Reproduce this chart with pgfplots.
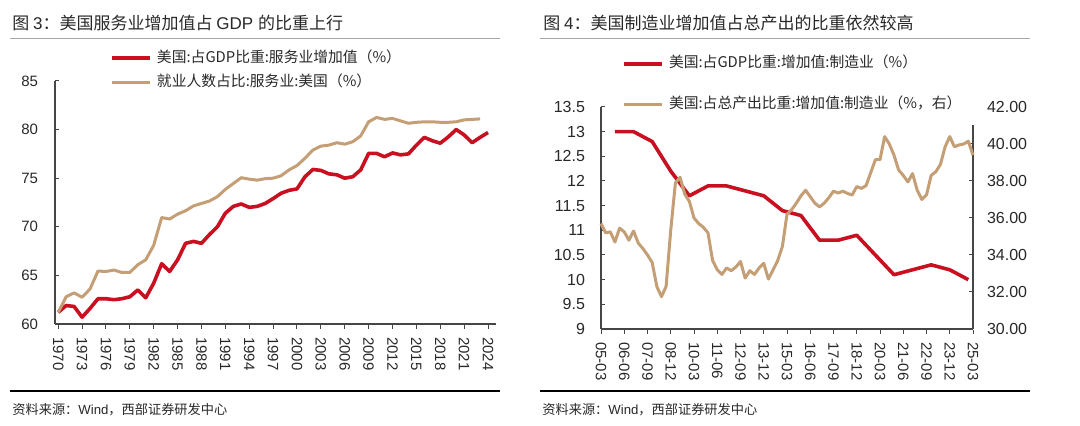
\documentclass[border=0pt]{standalone}
\usepackage{fontspec}
\setmainfont{Liberation Sans}
\newfontfamily\cjk{Noto Sans CJK SC}
\usepackage{pgfplots}
\pgfplotsset{compat=1.18}

\definecolor{cred}{RGB}{200,16,32}
\definecolor{ctan}{RGB}{196,158,116}
\definecolor{axgray}{RGB}{70,70,70}
\definecolor{txt}{RGB}{40,40,40}

\pgfplotsset{
  base/.style={
    scale only axis,
    anchor=south west,
    axis line style={-, draw=axgray, line width=0.6pt},
    tick style={draw=axgray, line width=0.5pt},
    tick align=inside,
    major tick length=2pt,
    x tick style={yshift=-2.5pt},
    /pgf/number format/assume math mode=true,
    /pgf/number format/1000 sep={},
    clip=false,
    legend cell align=left,
    legend image code/.code={\draw[##1] (0pt,0pt) -- (19pt,0pt);},
  },
}

\begin{document}
\begin{tikzpicture}
\path[use as bounding box] (0,0) rectangle (540pt,213pt);

% titles, rules and sources
\node[anchor=west, inner sep=0pt, text=txt, font=\fontsize{8.5}{10}\selectfont]
  at (6pt,201.5pt) {{\cjk 图 }3{\cjk ：美国服务业增加值占 }GDP\ {\cjk 的比重上行}};
\node[anchor=west, inner sep=0pt, text=txt, font=\fontsize{8.5}{10}\selectfont]
  at (271.5pt,201.5pt) {{\cjk 图 }4{\cjk ：美国制造业增加值占总产出的比重依然较高}};
\draw[gray!70, line width=0.5pt] (5pt,193.75pt) -- (250pt,193.75pt);
\draw[gray!70, line width=0.5pt] (270pt,193.75pt) -- (515pt,193.75pt);
\draw[black, line width=1pt] (5pt,17.5pt) -- (250pt,17.5pt);
\draw[black, line width=1pt] (270pt,17.5pt) -- (515pt,17.5pt);
\node[anchor=west, inner sep=0pt, text=txt, font=\fontsize{6.6}{8}\selectfont]
  at (6pt,8pt) {{\cjk 资料来源：}Wind{\cjk ，西部证券研发中心}};
\node[anchor=west, inner sep=0pt, text=txt, font=\fontsize{6.6}{8}\selectfont]
  at (271pt,8pt) {{\cjk 资料来源：}Wind{\cjk ，西部证券研发中心}};

% ---------- left panel ----------
\begin{axis}[base,
  at={(27.5pt,51pt)}, width=220.5pt, height=121.5pt,
  xmin=1969.6, xmax=2025, ymin=60, ymax=85,
  axis x line*=bottom, axis y line*=left,
  xtick={1970,1973,...,2024}, ytick={60,65,...,85},
  tick label style={font=\fontsize{7.5}{9}\selectfont, text=txt},
  xticklabel style={yshift=-3pt, rotate=-90, anchor=west},
  yticklabel style={xshift=-5pt},
  legend style={draw=none, fill=none, inner sep=0pt, at={(0.1247,1.125)}, anchor=north west,
    font=\fontsize{7.4}{8}\selectfont\cjk, text=txt, row sep=5pt, column sep=2.5pt,
    nodes={inner sep=0pt, text height=5.5pt, text depth=1.5pt}},
]
\addplot[cred, line width=1.8pt, line join=round, mark=none] table {
1970 61.2
1971 61.9
1972 61.8
1973 60.7
1974 61.6
1975 62.6
1976 62.6
1977 62.5
1978 62.6
1979 62.8
1980 63.5
1981 62.7
1982 64.2
1983 66.2
1984 65.4
1985 66.6
1986 68.3
1987 68.5
1988 68.3
1989 69.2
1990 70.0
1991 71.4
1992 72.1
1993 72.35
1994 72.0
1995 72.1
1996 72.4
1997 72.9
1998 73.45
1999 73.75
2000 73.9
2001 75.15
2002 75.9
2003 75.8
2004 75.45
2005 75.35
2006 75.0
2007 75.15
2008 75.85
2009 77.55
2010 77.55
2011 77.2
2012 77.6
2013 77.4
2014 77.5
2015 78.4
2016 79.2
2017 78.85
2018 78.6
2019 79.25
2020 80.0
2021 79.45
2022 78.65
2023 79.2
2024 79.7
};
\addlegendentry{美国:占GDP比重:服务业增加值（\%）}
\addplot[ctan, line width=1.5pt, line join=round, mark=none] table {
1970 61.2
1971 62.8
1972 63.2
1973 62.75
1974 63.6
1975 65.45
1976 65.4
1977 65.55
1978 65.3
1979 65.3
1980 66.1
1981 66.6
1982 68.1
1983 70.95
1984 70.8
1985 71.3
1986 71.65
1987 72.15
1988 72.4
1989 72.65
1990 73.1
1991 73.85
1992 74.45
1993 75.05
1994 74.9
1995 74.8
1996 74.95
1997 75.0
1998 75.25
1999 75.85
2000 76.3
2001 77.05
2002 77.9
2003 78.3
2004 78.4
2005 78.65
2006 78.5
2007 78.75
2008 79.35
2009 80.8
2010 81.25
2011 81.05
2012 81.15
2013 80.9
2014 80.65
2015 80.75
2016 80.8
2017 80.8
2018 80.75
2019 80.75
2020 80.8
2021 81.0
2022 81.05
2023 81.1
};
\addlegendentry{就业人数占比:服务业:美国（\%）}
\end{axis}

% ---------- right panel, left axis ----------
\begin{axis}[base,
  at={(300.5pt,48.5pt)}, width=186pt, height=111pt,
  xmin=0, xmax=80, ymin=9, ymax=13.5,
  axis x line*=bottom, axis y line*=left,
  xtick={0,5,...,80},
  xticklabels={05-03,06-06,07-09,08-12,10-03,11-06,12-09,13-12,15-03,16-06,17-09,18-12,20-03,21-06,22-09,23-12,25-03},
  ytick={9,9.5,...,13.5},
  tick label style={font=\fontsize{8}{9}\selectfont, text=txt},
  xticklabel style={yshift=-3pt, rotate=-90, anchor=west, font=\fontsize{7.5}{9}\selectfont},
  yticklabel style={xshift=-4.5pt},
]
\addplot[cred, line width=1.8pt, line join=round, mark=none] table {
3 13.0
7 13.0
11 12.8
15 12.2
19 11.7
23 11.9
27 11.9
31 11.8
35 11.7
39 11.4
43 11.3
47 10.8
51 10.8
55 10.9
59 10.5
63 10.1
67 10.2
71 10.3
75 10.2
79 10.0
};
\end{axis}

% ---------- right panel, right axis ----------
\begin{axis}[base,
  at={(300.5pt,48.5pt)}, width=186pt, height=111pt,
  xmin=0, xmax=80, ymin=30, ymax=42,
  axis x line=none, axis y line*=right,
  y axis line style={draw=none},
  ytick={30,32,...,40}, extra y ticks={42},
  extra y tick style={major tick length=0pt},
  /pgf/number format/fixed, /pgf/number format/fixed zerofill, /pgf/number format/precision=2,
  tick label style={font=\fontsize{8}{9}\selectfont, text=txt},
  yticklabel style={xshift=3.5pt},
  legend style={draw=none, fill=none, inner sep=0pt, at={(0.0565,1.227)}, anchor=north west,
    font=\fontsize{7.4}{8}\selectfont\cjk, text=txt, row sep=13.5pt, column sep=2.5pt,
    nodes={inner sep=0pt, text height=5.5pt, text depth=1.5pt}},
]
\draw[axgray, line width=0.6pt] (rel axis cs:1,0) -- (rel axis cs:1,0.919);
\addlegendimage{cred, line width=1.8pt}
\addlegendentry{美国:占GDP比重:增加值:制造业（\%）}
\addplot[ctan, line width=1.5pt, line join=round, mark=none] table {
0 35.7
1 35.2
2 35.25
3 34.7
4 35.45
5 35.25
6 34.8
7 35.3
8 34.65
9 34.35
10 34.0
11 33.6
12 32.3
13 31.75
14 32.3
15 35.35
16 37.9
17 38.2
18 37.3
19 36.9
20 36.0
21 35.7
22 35.5
23 35.2
24 33.7
25 33.2
26 32.95
27 33.3
28 33.15
29 33.35
30 33.65
31 32.75
32 33.15
33 32.95
34 33.3
35 33.55
36 32.7
37 33.2
38 33.7
39 34.45
40 36.2
41 36.45
42 36.8
43 37.2
44 37.5
45 37.15
46 36.8
47 36.6
48 36.8
49 37.1
50 37.45
51 37.35
52 37.45
53 37.33
54 37.24
55 37.7
56 37.6
57 37.75
58 38.45
59 39.15
60 39.15
61 40.4
62 40.0
63 39.4
64 38.6
65 38.3
66 37.95
67 38.4
68 37.5
69 37.0
70 37.25
71 38.3
72 38.5
73 38.9
74 39.85
75 40.4
76 39.85
77 39.95
78 40.0
79 40.15
80 39.4
};
\addlegendentry{美国:占总产出比重:增加值:制造业（\%，右）}
\end{axis}
\end{tikzpicture}
\end{document}
